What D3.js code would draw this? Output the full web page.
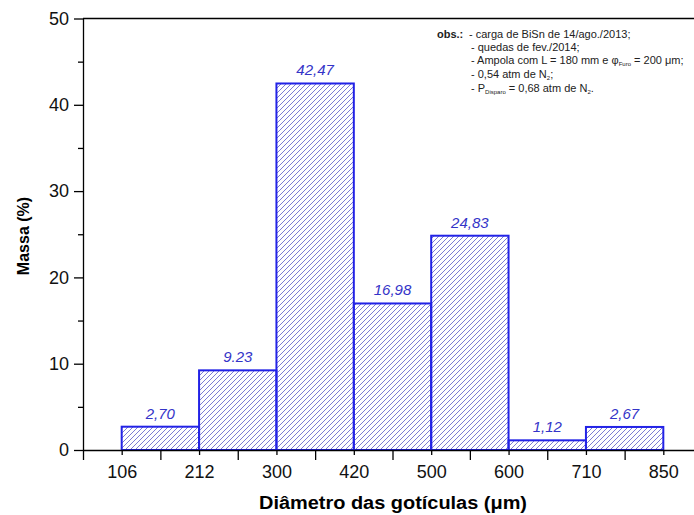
<!DOCTYPE html>
<html>
<head>
<meta charset="utf-8">
<script src="https://cdn.jsdelivr.net/npm/d3@7"></script>
<style>
  body { margin: 0; background: #fff; }
  svg { display: block; font-family: Arial, "Liberation Sans", sans-serif; }
</style>
</head>
<body>
<div id="chart"></div>
<script>
// bin edges (um) shown under the axis
const edges = ["106", "212", "300", "420", "500", "600", "710", "850"];
// mass fraction per bin (%)
const massa = [2.70, 9.23, 42.47, 16.98, 24.83, 1.12, 2.67];
// labels written over the bars, as printed
const rotulos = ["2,70", "9.23", "42,47", "16,98", "24,83", "1,12", "2,67"];
const yTicks = [0, 10, 20, 30, 40, 50];
const yMinor = [5, 15, 25, 35, 45];

const width = 694, height = 515;

const svg = d3.select("#chart")
  .append("svg")
  .attr("width", width)
  .attr("height", height);

// hatch fill for the bars
const defs = svg.append("defs");
defs.append("pattern")
  .attr("id", "hatch")
  .attr("patternUnits", "userSpaceOnUse")
  .attr("width", 5)
  .attr("height", 5)
  .append("path")
  .attr("d", "M0,5 L5,0 M-1,1 L1,-1 M4,6 L6,4")
  .attr("stroke", "#7c7cd4")
  .attr("stroke-width", 1);

// x is the bin edge index
const x = d3.scaleLinear().domain([-0.5, edges.length - 0.5]).range([83, 702]);
const y = d3.scaleLinear().domain([0, 50]).range([450, 18.5]);

// bars from edge i to edge i+1
svg.selectAll(".bar")
  .data(massa)
  .enter()
  .append("rect")
  .attr("class", "bar")
  .attr("x", (d, i) => x(i))
  .attr("y", d => y(d))
  .attr("width", (d, i) => x(i + 1) - x(i))
  .attr("height", d => y(0) - y(d))
  .attr("fill", "url(#hatch)")
  .attr("stroke", "#2222e6")
  .attr("stroke-width", 2);

// values over the bars
svg.selectAll(".rot")
  .data(massa)
  .enter()
  .append("text")
  .attr("class", "rot")
  .attr("x", (d, i) => (x(i) + x(i + 1)) / 2)
  .attr("y", d => y(d) - 8)
  .attr("text-anchor", "middle")
  .attr("font-size", 15)
  .attr("font-style", "italic")
  .attr("fill", "#3434c8")
  .text((d, i) => rotulos[i]);

// frame top line (right side runs off the picture)
svg.append("line")
  .attr("x1", x(-0.5)).attr("x2", x(edges.length - 0.5))
  .attr("y1", y(50)).attr("y2", y(50))
  .attr("stroke", "#000").attr("stroke-width", 1.3);

// y axis
svg.append("g")
  .attr("transform", `translate(${x(-0.5)},0)`)
  .call(d3.axisLeft(y).tickValues(yTicks).tickSize(9).tickPadding(5).tickSizeOuter(0));
svg.append("g")
  .attr("transform", `translate(${x(-0.5)},0)`)
  .call(d3.axisLeft(y).tickValues(yMinor).tickSize(5).tickFormat("").tickSizeOuter(0))
  .select(".domain").remove();

// x axis: labelled ticks on the edges, longer ticks at the bin centres
svg.append("g")
  .attr("transform", `translate(0,${y(0)})`)
  .call(d3.axisBottom(x).tickValues(d3.range(edges.length))
    .tickFormat(i => edges[i]).tickSize(5).tickPadding(10).tickSizeOuter(0));
svg.append("g")
  .attr("transform", `translate(0,${y(0)})`)
  .call(d3.axisBottom(x).tickValues(d3.range(-0.5, edges.length, 1))
    .tickSize(10).tickFormat("").tickSizeOuter(0))
  .select(".domain").remove();

svg.selectAll(".domain, .tick line")
  .attr("stroke", "#000")
  .attr("stroke-width", 1.3);
svg.selectAll(".tick text")
  .attr("font-size", 18)
  .attr("font-family", "Arial, 'Liberation Sans', sans-serif")
  .attr("fill", "#111");

// axis titles
svg.append("text")
  .attr("transform", "translate(29,236) rotate(-90)")
  .attr("text-anchor", "middle")
  .attr("font-size", 16)
  .attr("font-weight", "bold")
  .text("Massa (%)");

svg.append("text")
  .attr("x", 393)
  .attr("y", 509)
  .attr("text-anchor", "middle")
  .attr("font-size", 18)
  .attr("font-weight", "bold")
  .attr("textLength", 268)
  .attr("lengthAdjust", "spacingAndGlyphs")
  .text("Diâmetro das gotículas (μm)");

// notes box
const obs = svg.append("g").attr("font-size", 11).attr("fill", "#222");
obs.append("text").attr("x", 437).attr("y", 38).attr("font-weight", "bold").text("obs.:");
const notas = obs.append("g").attr("transform", "translate(469,0)");
notas.append("text").attr("y", 38).text("- carga de BiSn de 14/ago./2013;");
notas.append("text").attr("x", 2).attr("y", 51).text("- quedas de fev./2014;");
const l3 = notas.append("text").attr("x", 2).attr("y", 64);
l3.append("tspan").text("-  Ampola com L = 180 mm e φ");
l3.append("tspan").attr("font-size", 6).attr("dy", 2).text("Furo");
l3.append("tspan").attr("dy", -2).text(" = 200 μm;");
const l4 = notas.append("text").attr("x", 2).attr("y", 78);
l4.append("tspan").text("- 0,54 atm de N");
l4.append("tspan").attr("font-size", 6).attr("dy", 2).text("2");
l4.append("tspan").attr("dy", -2).text(";");
const l5 = notas.append("text").attr("x", 2).attr("y", 92);
l5.append("tspan").text("- P");
l5.append("tspan").attr("font-size", 6).attr("dy", 2).text("Disparo");
l5.append("tspan").attr("dy", -2).text(" = 0,68 atm de N");
l5.append("tspan").attr("font-size", 6).attr("dy", 2).text("2");
l5.append("tspan").attr("dy", -2).text(".");
</script>
</body>
</html>
